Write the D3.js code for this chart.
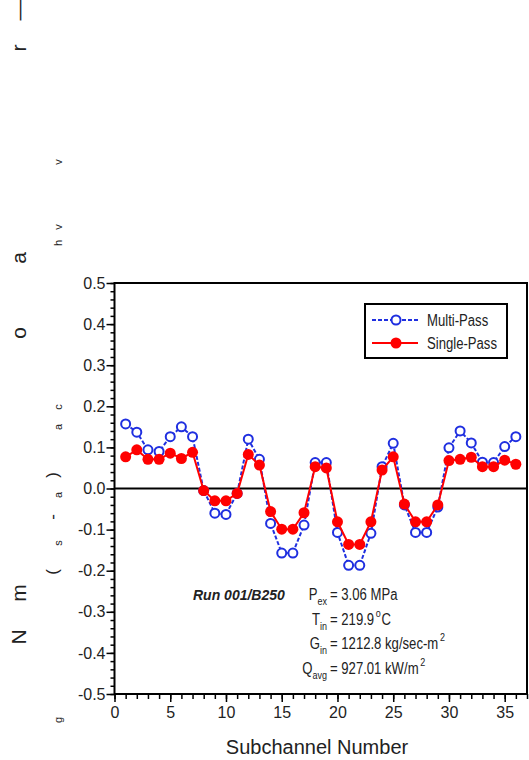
<!DOCTYPE html>
<html>
<head>
<meta charset="utf-8">
<script src="https://cdn.jsdelivr.net/npm/d3@7"></script>
<style>
  body { margin: 0; background: #fff; }
  svg text { font-family: "Liberation Sans", Arial, sans-serif; }
</style>
</head>
<body>
<div class="svg-target"></div>
<script>
// subchannel numbers and the two series
const subchannels = d3.range(1, 37);
const multiPass = [0.157, 0.137, 0.094, 0.090, 0.126, 0.150, 0.126, -0.005, -0.060, -0.063, -0.012, 0.120,
                   0.071, -0.085, -0.157, -0.157, -0.089, 0.063, 0.063, -0.107, -0.187, -0.187, -0.109, 0.053,
                   0.110, -0.040, -0.107, -0.107, -0.045, 0.099, 0.140, 0.111, 0.064, 0.063, 0.102, 0.126];
const singlePass = [0.077, 0.094, 0.071, 0.071, 0.086, 0.073, 0.088, -0.005, -0.030, -0.030, -0.012, 0.083,
                    0.057, -0.056, -0.099, -0.099, -0.059, 0.053, 0.050, -0.081, -0.136, -0.136, -0.081, 0.045,
                    0.077, -0.038, -0.081, -0.081, -0.040, 0.068, 0.071, 0.076, 0.053, 0.053, 0.069, 0.059];
const yTicks = [-0.5, -0.4, -0.3, -0.2, -0.1, 0.0, 0.1, 0.2, 0.3, 0.4, 0.5];
const xTicks = [0, 5, 10, 15, 20, 25, 30, 35];
const seriesNames = ['Multi-Pass', 'Single-Pass'];

// the y-axis title came out scattered in the original, letter by letter
const axisLetters = ['—', 'r', 'v', 'v', 'h', 'a', 'o', 'c', 'a', ')', 'a', '-', 's', '(', 'm', 'N', 'g'];
// layout for those letters: [x, y, font size]
const axisLetterPos = [[18, 10, 21], [18, 48, 21], [58, 162, 11], [58, 227, 11], [58, 243, 11], [18, 258, 21],
                       [18, 333, 21], [58, 407, 11], [58, 427, 11], [52, 475, 17], [58, 495, 11], [52, 517, 17],
                       [58, 543, 11], [52, 572, 17], [18, 593, 21], [18, 637, 21], [58, 720, 11]];

const w = 529;
const h = 760;
const padLeft = 114.5, padRight = 527, padTop = 283, padBottom = 694;
const narrow = 0.82;   // the original used a condensed face

const svg = d3.select('.svg-target')
    .append('svg')
    .attr('width', w)
    .attr('height', h);

const xScale = d3.scaleLinear().domain([0, 37]).range([padLeft, padRight]);
const yScale = d3.scaleLinear().domain([-0.5, 0.5]).range([padBottom, padTop]);

// minor ticks
svg.append('g')
    .attr('transform', `translate(${padLeft}, 0)`)
    .call(d3.axisLeft(yScale).tickValues(d3.range(-25, 26).map(d => d / 50)).tickSize(4).tickFormat(''))
    .call(g => g.select('.domain').remove())
    .call(g => g.selectAll('line').attr('stroke-width', 1.5));

svg.append('g')
    .attr('transform', `translate(0, ${padBottom})`)
    .call(d3.axisBottom(xScale).tickValues(d3.range(0, 38)).tickSize(5).tickFormat(''))
    .call(g => g.select('.domain').remove())
    .call(g => g.selectAll('line').attr('stroke-width', 1.5));

// y axis
svg.append('g')
    .attr('transform', `translate(${padLeft}, 0)`)
    .call(d3.axisLeft(yScale).tickValues(yTicks).tickSize(8).tickPadding(1).tickFormat(d => d.toFixed(1)))
    .call(g => g.select('.domain').remove())
    .call(g => g.selectAll('line').attr('stroke-width', 1.5))
    .call(g => g.selectAll('text').attr('font-size', 16).attr('fill', '#222')
        .attr('font-family', '"Liberation Sans", Arial, sans-serif'));

// x axis
svg.append('g')
    .attr('transform', `translate(0, ${padBottom})`)
    .call(d3.axisBottom(xScale).tickValues(xTicks).tickSize(8).tickPadding(5))
    .call(g => g.select('.domain').remove())
    .call(g => g.selectAll('line').attr('stroke-width', 1.5))
    .call(g => g.selectAll('text').attr('font-size', 16).attr('fill', '#222')
        .attr('font-family', '"Liberation Sans", Arial, sans-serif'));

// frame and zero line
svg.append('rect')
    .attr('x', padLeft).attr('y', padTop)
    .attr('width', padRight - padLeft).attr('height', padBottom - padTop)
    .attr('fill', 'none').attr('stroke', '#000').attr('stroke-width', 2);

svg.append('line')
    .attr('x1', padLeft).attr('x2', padRight)
    .attr('y1', yScale(0)).attr('y2', yScale(0))
    .attr('stroke', '#000').attr('stroke-width', 2);

// series
const line = d3.line().x(d => xScale(d[0])).y(d => yScale(d[1]));
const multiData = subchannels.map((s, i) => [s, multiPass[i]]);
const singleData = subchannels.map((s, i) => [s, singlePass[i]]);

svg.append('path')
    .datum(multiData)
    .attr('d', line)
    .attr('fill', 'none')
    .attr('stroke', '#1f2fe0')
    .attr('stroke-width', 2)
    .attr('stroke-dasharray', '4,2');

svg.selectAll('.mp')
    .data(multiData)
    .enter()
    .append('circle')
        .attr('class', 'mp')
        .attr('cx', d => xScale(d[0]))
        .attr('cy', d => yScale(d[1]))
        .attr('r', 4.5)
        .attr('fill', '#fff')
        .attr('stroke', '#1f2fe0')
        .attr('stroke-width', 2);

svg.append('path')
    .datum(singleData)
    .attr('d', line)
    .attr('fill', 'none')
    .attr('stroke', '#f00')
    .attr('stroke-width', 2);

svg.selectAll('.sp')
    .data(singleData)
    .enter()
    .append('circle')
        .attr('class', 'sp')
        .attr('cx', d => xScale(d[0]))
        .attr('cy', d => yScale(d[1]))
        .attr('r', 5.5)
        .attr('fill', '#f00');

// legend
const legend = svg.append('g');
legend.append('rect')
    .attr('x', 365).attr('y', 304)
    .attr('width', 142).attr('height', 54)
    .attr('fill', '#fff').attr('stroke', '#000').attr('stroke-width', 2);

legend.append('line')
    .attr('x1', 372).attr('x2', 418).attr('y1', 320).attr('y2', 320)
    .attr('stroke', '#1f2fe0').attr('stroke-width', 2).attr('stroke-dasharray', '4,2');
legend.append('circle')
    .attr('cx', 396).attr('cy', 320).attr('r', 4.5)
    .attr('fill', '#fff').attr('stroke', '#1f2fe0').attr('stroke-width', 2);
legend.append('line')
    .attr('x1', 372).attr('x2', 418).attr('y1', 343).attr('y2', 343)
    .attr('stroke', '#f00').attr('stroke-width', 2);
legend.append('circle')
    .attr('cx', 396).attr('cy', 343).attr('r', 5.5).attr('fill', '#f00');

legend.selectAll('.lt')
    .data(seriesNames)
    .enter()
    .append('g')
        .attr('transform', (d, i) => `translate(427, ${326 + i * 23}) scale(${narrow}, 1)`)
    .append('text')
        .attr('font-size', 16)
        .attr('fill', '#222')
        .text(d => d);

// run annotation
svg.append('text')
    .attr('x', 193).attr('y', 600)
    .attr('font-size', 14)
    .attr('font-weight', 'bold')
    .attr('font-style', 'italic')
    .attr('fill', '#222')
    .text('Run 001/B250');

const notes = [
    { sym: 'P', sub: 'ex', rest: '= 3.06 MPa', sup: null, after: '', y: 600 },
    { sym: 'T', sub: 'in', rest: '= 219.9', sup: 'o', after: 'C', y: 625 },
    { sym: 'G', sub: 'in', rest: '= 1212.8 kg/sec-m', sup: '2', after: '', y: 649 },
    { sym: 'Q', sub: 'avg', rest: '= 927.01 kW/m', sup: '2', after: '', y: 674 }
];

notes.forEach(n => {
    const l = svg.append('g')
        .attr('transform', `translate(327, ${n.y}) scale(${narrow}, 1)`)
        .append('text')
        .attr('text-anchor', 'end')
        .attr('font-size', 16)
        .attr('fill', '#222');
    l.append('tspan').text(n.sym);
    l.append('tspan').attr('font-size', 11).attr('dy', 5).text(n.sub);

    const r = svg.append('g')
        .attr('transform', `translate(330, ${n.y}) scale(${narrow}, 1)`)
        .append('text')
        .attr('font-size', 16)
        .attr('fill', '#222');
    r.append('tspan').text(n.rest);
    if (n.sup) {
        r.append('tspan').attr('font-size', 11).attr('dy', -8).attr('dx', 2).text(n.sup);
        if (n.after) r.append('tspan').attr('dy', 8).attr('dx', 1).text(n.after);
    }
});

// x title
svg.append('text')
    .attr('x', 317).attr('y', 754)
    .attr('text-anchor', 'middle')
    .attr('font-size', 20)
    .attr('fill', '#222')
    .text('Subchannel Number');

// scattered y title
svg.selectAll('.yl')
    .data(axisLetters)
    .enter()
    .append('text')
        .attr('class', 'yl')
        .attr('transform', (d, i) => `translate(${axisLetterPos[i][0]}, ${axisLetterPos[i][1]}) rotate(-90)`)
        .attr('text-anchor', 'middle')
        .attr('dominant-baseline', 'central')
        .attr('font-size', (d, i) => axisLetterPos[i][2])
        .attr('fill', '#222')
        .text(d => d);
</script>
</body>
</html>
